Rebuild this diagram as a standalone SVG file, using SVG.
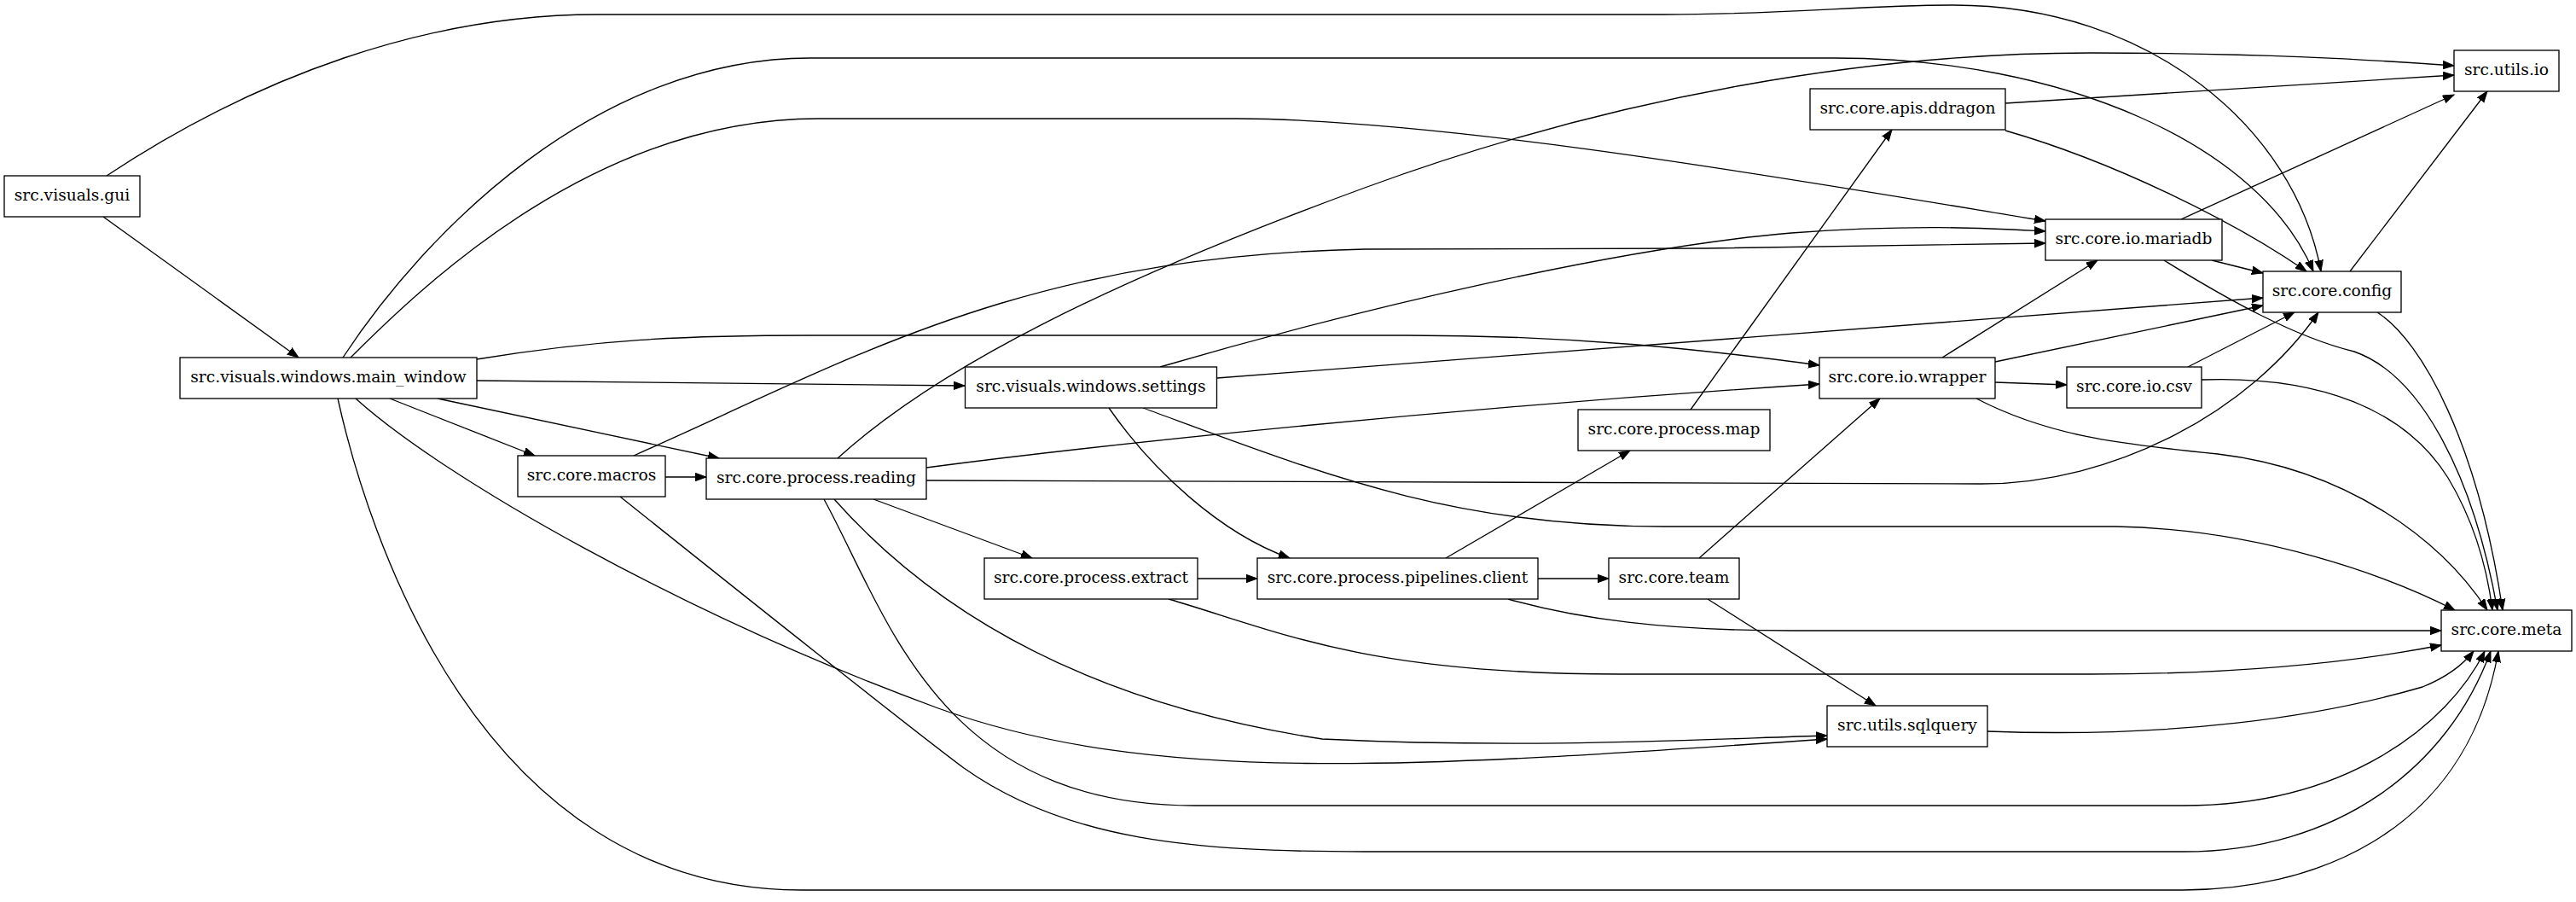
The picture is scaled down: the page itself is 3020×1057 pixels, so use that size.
<svg xmlns="http://www.w3.org/2000/svg" width="3020" height="1057" viewBox="0 0 3020 1057">
<style>
.node rect{fill:#fff;stroke:#000;stroke-width:1.33}
.node text{font-family:"DejaVu Serif","Liberation Serif",serif;font-size:18.67px;text-anchor:middle;fill:#000}
.edges path{fill:none;stroke:#000;stroke-width:1.33;marker-end:url(#ah)}
</style>
<defs>
<marker id="ah" markerUnits="userSpaceOnUse" markerWidth="16" markerHeight="12" refX="13" refY="5" orient="auto">
<path d="M0,0.3 L13,5 L0,9.7 z" fill="#000" stroke="#000" stroke-width="1"/>
</marker>
</defs>
<rect width="3020" height="1057" fill="#fff"/>
<g class="edges" id="edges">
<path id="e-gui-main" d="M121,254 L350,419"/>
<path id="e-gui-config" d="M125,206 C300,90 500,17 700,17 L1950,17 C2100,17 2180,6 2290,6 C2520,6 2690,150 2721,318"/>
<path id="e-main-config" d="M402,419 C500,270 700,68 950,68 L2150,68 C2420,68 2650,170 2712,318"/>
<path id="e-main-mariadb" d="M411,419 C500,330 700,139 960,139 L1450,139 C1700,140 2100,210 2398,259"/>
<path id="e-main-wrapper" d="M559,421 C700,398 800,393 950,393 L1650,393 C1850,393 2000,410 2133,428"/>
<path id="e-main-settings" d="M559,446 L1131,452"/>
<path id="e-main-macros" d="M457,467 L627,534"/>
<path id="e-main-reading" d="M513,467 L843,537"/>
<path id="e-main-sqlquery" d="M417,467 C520,560 800,720 1100,830 C1350,920 1650,900 2142,866"/>
<path id="e-main-meta" d="M396,467 C430,620 560,1043 940,1043 L2560,1043 C2700,1043 2890,985 2929,763"/>
<path id="e-settings-mariadb" d="M1360,430 C1600,360 1900,290 2100,273 C2250,262 2340,268 2398,271"/>
<path id="e-settings-config" d="M1427,443 L2653,349"/>
<path id="e-settings-pipelines" d="M1300,478 C1350,550 1430,625 1512,654"/>
<path id="e-settings-meta" d="M1340,478 C1550,555 1700,617 1950,617 L2480,617 C2650,620 2800,675 2878,715"/>
<path id="e-macros-reading" d="M780,559 L828,559"/>
<path id="e-macros-mariadb" d="M743,534 C1000,420 1200,300 1600,292 L2000,291 C2200,289 2300,286 2398,285"/>
<path id="e-macros-meta" d="M727,582 C900,720 1050,840 1130,900 C1250,985 1400,998 1600,998 L2560,998 C2740,998 2870,900 2920,763"/>
<path id="e-reading-utilsio" d="M982,537 C1100,430 1300,330 1600,220 C1900,110 2200,62 2450,62 C2650,62 2780,70 2877,77"/>
<path id="e-reading-wrapper" d="M1086,548 C1300,520 1700,478 2133,450"/>
<path id="e-reading-config" d="M1086,563 L2320,567 C2480,568 2640,480 2718,366"/>
<path id="e-reading-extract" d="M1024,585 L1210,654"/>
<path id="e-reading-sqlquery" d="M978,585 C1080,700 1250,820 1550,866 C1800,878 2000,866 2142,862"/>
<path id="e-reading-meta" d="M966,585 C1040,720 1100,944 1400,944 L2560,944 C2750,944 2870,850 2913,763"/>
<path id="e-extract-pipelines" d="M1404,678 L1474,678"/>
<path id="e-extract-meta" d="M1370,702 C1500,740 1600,790 1900,790 L2450,790 C2650,790 2780,772 2862,756"/>
<path id="e-pipelines-map" d="M1695,654 L1911,528"/>
<path id="e-pipelines-team" d="M1803,678 L1886,678"/>
<path id="e-pipelines-meta" d="M1768,702 C1850,725 1950,739 2100,739 L2862,739"/>
<path id="e-team-wrapper" d="M1992,654 L2204,467"/>
<path id="e-team-sqlquery" d="M2002,702 L2199,827"/>
<path id="e-map-ddragon" d="M1982,480 L2218,152"/>
<path id="e-ddragon-utilsio" d="M2351,121 L2877,88"/>
<path id="e-ddragon-config" d="M2351,153 C2480,190 2620,260 2704,318"/>
<path id="e-wrapper-mariadb" d="M2277,419 L2459,305"/>
<path id="e-wrapper-config" d="M2339,424 L2653,358"/>
<path id="e-wrapper-csv" d="M2339,448 L2423,451"/>
<path id="e-wrapper-meta" d="M2317,467 C2400,510 2480,520 2600,532 C2750,550 2860,630 2916,715"/>
<path id="e-mariadb-utilsio" d="M2557,257 L2877,111"/>
<path id="e-mariadb-config" d="M2593,305 L2653,320"/>
<path id="e-mariadb-meta" d="M2537,305 C2610,350 2690,395 2760,412 C2840,440 2900,560 2928,715"/>
<path id="e-config-utilsio" d="M2755,318 L2916,107"/>
<path id="e-config-meta" d="M2787,366 C2840,400 2905,520 2934,715"/>
<path id="e-csv-config" d="M2565,430 L2690,366"/>
<path id="e-csv-meta" d="M2581,445 C2720,440 2820,480 2870,560 C2900,610 2915,660 2922,715"/>
<path id="e-sqlquery-meta" d="M2330,857 C2550,865 2720,840 2840,805 C2865,795 2885,782 2900,763"/>
</g>
<g class="node" id="n-gui"><rect x="5" y="206" width="159" height="48"/><text x="84.5" y="235">src.visuals.gui</text></g>
<g class="node" id="n-main_window"><rect x="211" y="419" width="348" height="48"/><text x="385" y="448">src.visuals.windows.main_window</text></g>
<g class="node" id="n-macros"><rect x="607" y="534" width="173" height="48"/><text x="693.5" y="563">src.core.macros</text></g>
<g class="node" id="n-reading"><rect x="828" y="537" width="258" height="48"/><text x="957" y="566">src.core.process.reading</text></g>
<g class="node" id="n-settings"><rect x="1131.5" y="430" width="295" height="48"/><text x="1279" y="459">src.visuals.windows.settings</text></g>
<g class="node" id="n-extract"><rect x="1154" y="654" width="250" height="48"/><text x="1279" y="683">src.core.process.extract</text></g>
<g class="node" id="n-pipelines"><rect x="1474" y="654" width="329" height="48"/><text x="1638.5" y="683">src.core.process.pipelines.client</text></g>
<g class="node" id="n-team"><rect x="1886" y="654" width="153" height="48"/><text x="1962.5" y="683">src.core.team</text></g>
<g class="node" id="n-map"><rect x="1850" y="480" width="225" height="48"/><text x="1962.5" y="509">src.core.process.map</text></g>
<g class="node" id="n-ddragon"><rect x="2122" y="104" width="229" height="48"/><text x="2236.5" y="133">src.core.apis.ddragon</text></g>
<g class="node" id="n-wrapper"><rect x="2133" y="419" width="206" height="48"/><text x="2236" y="448">src.core.io.wrapper</text></g>
<g class="node" id="n-sqlquery"><rect x="2142" y="827" width="188" height="48"/><text x="2236" y="856">src.utils.sqlquery</text></g>
<g class="node" id="n-mariadb"><rect x="2398" y="257" width="207" height="48"/><text x="2501.5" y="286">src.core.io.mariadb</text></g>
<g class="node" id="n-csv"><rect x="2423" y="430" width="158" height="48"/><text x="2502" y="459">src.core.io.csv</text></g>
<g class="node" id="n-config"><rect x="2653" y="318" width="162" height="48"/><text x="2734" y="347">src.core.config</text></g>
<g class="node" id="n-utilsio"><rect x="2877" y="59" width="123" height="48"/><text x="2938.5" y="88">src.utils.io</text></g>
<g class="node" id="n-meta"><rect x="2862" y="715" width="153" height="48"/><text x="2938.5" y="744">src.core.meta</text></g>
</svg>
